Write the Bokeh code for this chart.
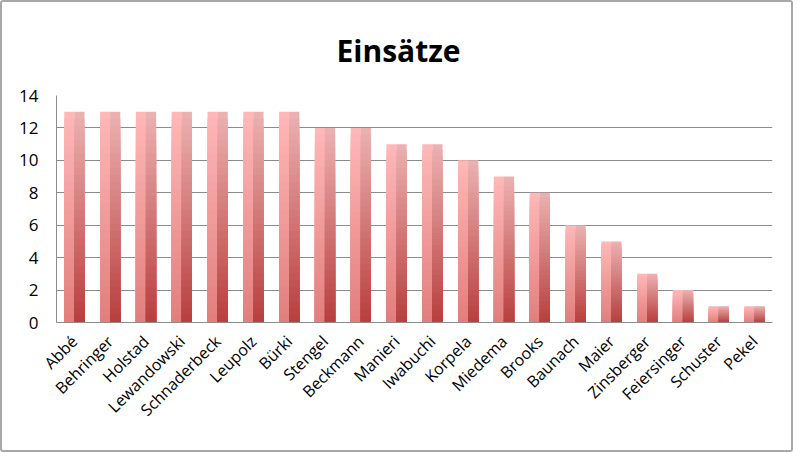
import math
from bokeh.plotting import figure
from bokeh.models import FixedTicker, ColumnDataSource, Range1d
from bokeh.transform import dodge
from bokeh.embed import file_html
from bokeh.resources import INLINE

names = ["Abbé", "Behringer", "Holstad", "Lewandowski", "Schnaderbeck", "Leupolz",
         "Bürki", "Stengel", "Beckmann", "Manieri", "Iwabuchi", "Korpela", "Miedema",
         "Brooks", "Baunach", "Maier", "Zinsberger", "Feiersinger", "Schuster", "Pekel"]
einsaetze = [13, 13, 13, 13, 13, 13, 13, 12, 12, 11, 11, 10, 9, 8, 6, 5, 3, 2, 1, 1]
y_ticks = [0, 2, 4, 6, 8, 10, 12, 14]

# gradient colours (top -> bottom) for left and right halves of each bar
left_top, left_bot = (255, 184, 184), (226, 126, 124)
right_top, right_bot = (236, 178, 178), (183, 62, 60)
N = 30

def mix(a, b, t):
    return "#%02x%02x%02x" % tuple(int(round(a[i] + (b[i] - a[i]) * t)) for i in range(3))

xs, tops, lcols, rcols = [], [], [], []
# tallest (lightest) layer first, shorter darker layers drawn over it -> no seams
for k in range(N - 1, -1, -1):
    t = 1 - (k + 0.5) / N
    for n, v in zip(names, einsaetze):
        xs.append(n)
        tops.append(v * (k + 1) / N)
        lcols.append(mix(left_top, left_bot, t))
        rcols.append(mix(right_top, right_bot, t))

src = ColumnDataSource(dict(x=xs, top=tops, lc=lcols, rc=rcols))

p = figure(x_range=names, y_range=Range1d(0, 14), width=793, height=452,
           output_backend="svg", toolbar_location=None,
           min_border_left=54, min_border_right=23, min_border_top=0, min_border_bottom=132,
           title="Einsätze")
p.styles = {"border": "2px solid #a8a8a8", "border-radius": "3px"}

p.vbar(x=dodge("x", -0.14, range=p.x_range), bottom=0, top="top", width=0.285,
       fill_color="lc", line_color=None, source=src)
p.vbar(x=dodge("x", 0.14, range=p.x_range), bottom=0, top="top", width=0.285,
       fill_color="rc", line_color=None, source=src)

p.title.text_font = "Open Sans"
p.title.text_font_size = "30px"
p.title.text_font_style = "bold"
p.title.align = "left"
p.title.offset = 280
p.title.standoff = 50
p.title.text_color = "#000000"

p.outline_line_color = None
p.background_fill_color = "white"
p.border_fill_color = "white"

p.xgrid.grid_line_color = None
p.ygrid.grid_line_color = "#8c8c8c"
p.ygrid.grid_line_width = 1

p.yaxis.ticker = FixedTicker(ticks=y_ticks)
p.yaxis.axis_line_color = "#8c8c8c"
p.yaxis.major_tick_line_color = None
p.yaxis.minor_tick_line_color = None
p.yaxis.major_label_text_font = "Open Sans"
p.yaxis.major_label_text_font_size = "17px"
p.yaxis.major_label_text_color = "#000000"
p.yaxis.major_label_standoff = 12

p.xaxis.axis_line_color = "#8c8c8c"
p.xaxis.major_tick_line_color = None
p.xaxis.minor_tick_line_color = None
p.xaxis.major_label_orientation = math.pi / 4
p.xaxis.major_label_text_font = "Open Sans"
p.xaxis.major_label_text_font_size = "16px"
p.xaxis.major_label_text_color = "#000000"
p.xaxis.major_label_standoff = 10

p.x_range.range_padding = 0

open("out.html", "w").write(file_html(p, INLINE))
